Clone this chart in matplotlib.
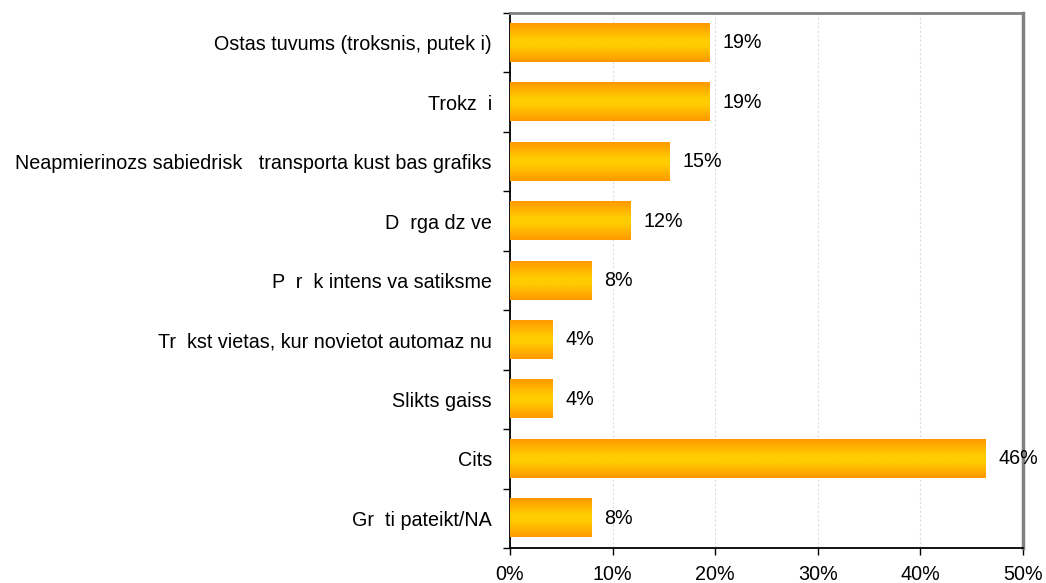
import numpy as np
import matplotlib
matplotlib.use("Agg")
import matplotlib.pyplot as plt
from matplotlib.colors import LinearSegmentedColormap
from matplotlib.ticker import FixedLocator, PercentFormatter

categories = [
    "Ostas tuvums (troksnis, putek i)",
    "Trokz  i",
    "Neapmierinozs sabiedrisk   transporta kust bas grafiks",
    "D  rga dz ve",
    "P  r  k intens va satiksme",
    "Tr  kst vietas, kur novietot automaz nu",
    "Slikts gaiss",
    "Cits",
    "Gr  ti pateikt/NA",
]
values = [19.4, 19.4, 15.5, 11.7, 7.9, 4.1, 4.1, 46.3, 7.9]
value_labels = ["19%", "19%", "15%", "12%", "8%", "4%", "4%", "46%", "8%"]
x_ticks = [0, 10, 20, 30, 40, 50]

plt.rcParams['font.family'] = ['Liberation Sans', 'DejaVu Sans']
FS = 14.2

fig = plt.figure(figsize=(10.46, 5.83), dpi=100)
ax = fig.add_axes([510/1046, 35/583, 513/1046, 535/583])

y = np.arange(len(categories))
bars = ax.barh(y, values, height=0.64, color='none', edgecolor='none', zorder=3)

cmap = LinearSegmentedColormap.from_list("og", [(0, "#FF9900"), (0.42, "#FFCC00"),
                                                (0.58, "#FFCC00"), (1, "#FF9900")])
grad = np.linspace(0, 1, 64).reshape(-1, 1)
for b in bars:
    x0, y0 = b.get_x(), b.get_y()
    w, h = b.get_width(), b.get_height()
    ax.imshow(grad, cmap=cmap, aspect='auto', extent=[x0, x0 + w, y0 + h, y0],
              zorder=3, interpolation='bilinear')
ax.set_xlim(0, 50)
ax.set_ylim(len(categories) - 0.5, -0.5)

for b, lab in zip(bars, value_labels):
    ax.annotate(lab, (b.get_width(), b.get_y() + b.get_height() / 2),
                xytext=(9.5, 0), textcoords='offset points', va='center', ha='left',
                fontsize=FS, color='black', zorder=4)

ax.set_yticks(y)
ax.set_yticklabels(categories, fontsize=FS)
ax.tick_params(axis='y', which='major', length=0, pad=13)
ax.yaxis.set_minor_locator(FixedLocator(np.arange(-0.5, len(categories), 1.0)))
ax.tick_params(axis='y', which='minor', length=5, width=1, direction='out', color='black')

ax.set_xticks(x_ticks)
ax.xaxis.set_major_formatter(PercentFormatter(decimals=0))
ax.tick_params(axis='x', which='major', length=5, width=1, direction='out', labelsize=FS, pad=7.5)

ax.grid(axis='x', color='#dcdcdc', linestyle=(0, (2, 2)), linewidth=0.8, zorder=0)
ax.set_axisbelow(True)

ax.spines['left'].set_color('black')
ax.spines['left'].set_linewidth(1.3)
ax.spines['bottom'].set_color('black')
ax.spines['bottom'].set_linewidth(1.3)
ax.spines['top'].set_color('#808080')
ax.spines['top'].set_linewidth(2)
ax.spines['right'].set_color('#808080')
ax.spines['right'].set_linewidth(2.5)

fig.savefig("out.png", dpi=100)
